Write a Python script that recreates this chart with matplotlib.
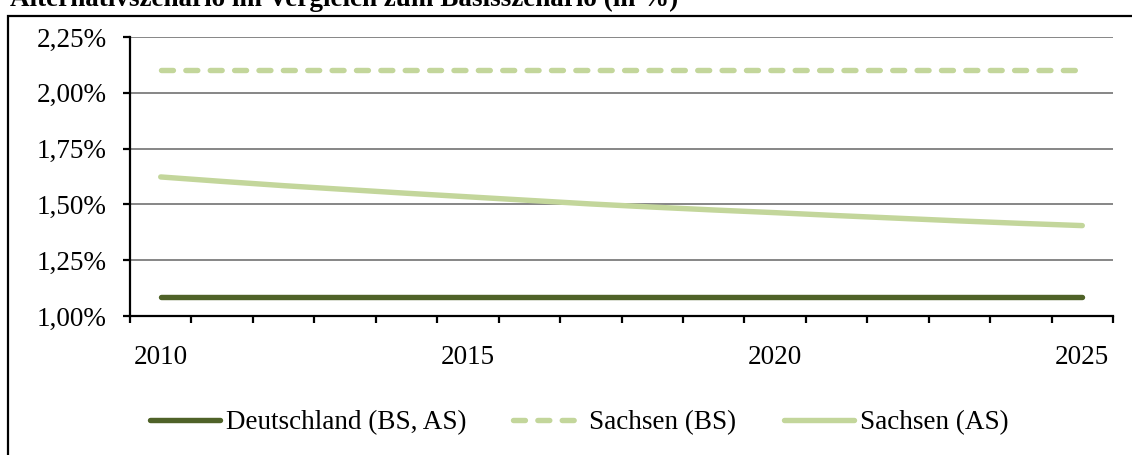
import numpy as np
import matplotlib
matplotlib.use("Agg")
import matplotlib.pyplot as plt
from matplotlib.patches import Rectangle

plt.rcParams['font.family'] = ['Liberation Serif', 'DejaVu Serif']

# Daten
jahre = list(range(2010, 2026))
deutschland = [1.085] * 16
sachsen_bs = [2.10] * 16
sachsen_as = [1.623, 1.603, 1.584, 1.567, 1.550, 1.534, 1.518, 1.502,
              1.488, 1.475, 1.463, 1.450, 1.438, 1.426, 1.415, 1.405]
y_ticks = [1.00, 1.25, 1.50, 1.75, 2.00, 2.25]
label_jahre = [2010, 2015, 2020, 2025]

dunkel = '#4F6228'
hell = '#C3D69B'
fs = 19.5

fig = plt.figure(figsize=(11.32, 4.55), dpi=100)

# Rahmen um das Diagramm
fig.patches.append(Rectangle((8 / 1132, -0.1), 1.2, (455 - 16) / 455 + 0.1,
                             transform=fig.transFigure, fill=False,
                             edgecolor='black', linewidth=1.6))
fig.text(10 / 1132, 1 - 6 / 455, 'Alternativszenario im Vergleich zum Basisszenario (in %)',
         fontsize=fs, fontweight='bold', ha='left', va='baseline')

ax = fig.add_axes([130 / 1132, (455 - 316) / 455, 983 / 1132, 279 / 455])
x = np.arange(len(jahre))

ax.plot(x, deutschland, color=dunkel, lw=3.9, solid_capstyle='round',
        label='Deutschland (BS, AS)')
ax.plot(x, sachsen_bs, color=hell, lw=3.9, dashes=(2.2, 2.3),
        dash_capstyle='round', label='Sachsen (BS)')
ax.plot(x, sachsen_as, color=hell, lw=3.9, solid_capstyle='round',
        label='Sachsen (AS)')

ax.set_xlim(-0.5, len(jahre) - 0.5)
ax.set_ylim(1.0, 2.25)
ax.set_yticks(y_ticks)
ax.set_yticklabels([f'{v:.2f}%'.replace('.', ',') for v in y_ticks])
ax.grid(axis='y', color='#868686', lw=1.4)
ax.set_axisbelow(True)

# Teilstriche an den Kategoriegrenzen, Beschriftung in der Mitte
ax.set_xticks(np.arange(-0.5, len(jahre), 1.0))
ax.set_xticklabels([])
ax.set_xticks([jahre.index(j) for j in label_jahre], minor=True)
ax.set_xticklabels([str(j) for j in label_jahre], minor=True)
ax.tick_params(axis='x', which='major', length=5, width=1.6, direction='out')
ax.tick_params(axis='x', which='minor', length=0, pad=21, labelsize=fs)
ax.tick_params(axis='y', length=5, width=1.6, pad=12, labelsize=fs)

for s in ['top', 'right']:
    ax.spines[s].set_visible(False)
for s in ['left', 'bottom']:
    ax.spines[s].set_linewidth(1.6)

fig.legend(loc='center', bbox_to_anchor=(579 / 1132, 1 - 423 / 455), ncol=3,
           frameon=False, fontsize=fs, handlelength=2.6, handletextpad=0.2,
           columnspacing=1.75)

fig.savefig('out.png', dpi=100)
